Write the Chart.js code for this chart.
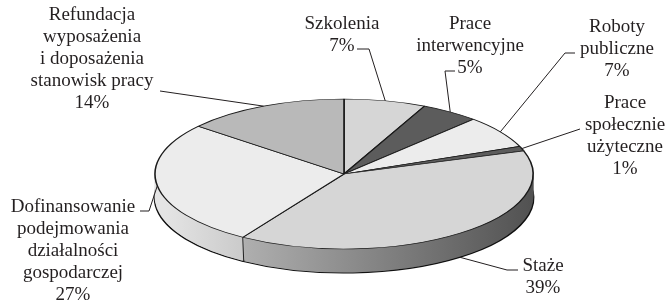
<!DOCTYPE html>
<html>
<head>
<meta charset="utf-8">
<script src="https://cdn.jsdelivr.net/npm/chart.js@4.4.0/dist/chart.umd.min.js"></script>
<style>
	html, body { margin: 0; padding: 0; background: #fff; overflow: hidden; }
	#wrap { width: 667px; height: 302px; position: relative; }
</style>
</head>
<body>
<div id="wrap"><canvas id="chart"></canvas></div>
<script>
// slices, clockwise from 12 o'clock
const categories = [
	'Szkolenia',
	'Prace interwencyjne',
	'Roboty publiczne',
	'Prace społecznie użyteczne',
	'Staże',
	'Dofinansowanie podejmowania działalności gospodarczej',
	'Refundacja wyposażenia i doposażenia stanowisk pracy'
];
const shares = [7, 5, 7, 1, 39, 27, 14];

// label text, broken in lines like the original
const labelLines = [
	['Szkolenia', '7%'],
	['Prace', 'interwencyjne', '5%'],
	['Roboty', 'publiczne', '7%'],
	['Prace', 'społecznie', 'użyteczne', '1%'],
	['Staże', '39%'],
	['Dofinansowanie', 'podejmowania', 'działalności', 'gospodarczej', '27%'],
	['Refundacja', 'wyposażenia', 'i doposażenia', 'stanowisk pracy', '14%']
];

const topColors = ['#d6d6d6', '#5c5c5c', '#ececec', '#5c5c5c', '#d6d6d6', '#ececec', '#b9b9b9'];
// side wall shading, left -> right
const sideColors = [
	['#b8b8b8', '#7a7a7a'],
	['#505050', '#3a3a3a'],
	['#d0d0d0', '#9a9a9a'],
	['#505050', '#3a3a3a'],
	['#c8c8c8', '#4e4e4e'],
	['#e4e4e4', '#686868'],
	['#b0b0b0', '#707070']
];

// ellipse look of the pie
const RX = 189;
const TILT = 75 / 189;
const DEPTH = 24;
const CENTER = { x: 344, y: 174 };

// where each label sits: centre x, first line y, leader points from text to pie
const labelLayout = [
	{ x: 342, y: 24, leader: [[357, 49], [369, 49]] },
	{ x: 470, y: 24, leader: [[455, 71], [445, 71]] },
	{ x: 617, y: 27, leader: [[575, 53], [565, 53]] },
	{ x: 625, y: 103, leader: [[580, 129]] },
	{ x: 543, y: 266, leader: [[518, 270], [507, 270]], side: true },
	{ x: 73, y: 207, leader: [[140, 211], [149, 211]] },
	{ x: 92, y: 15, leader: [[160, 91]] }
];

const LINE_H = 22;
const FONT = '19px "Liberation Serif", "Times New Roman", serif';

function pieTransform(ctx, arc, dy) {
	ctx.translate(CENTER.x, CENTER.y + dy);
	ctx.scale(1, TILT);
	ctx.translate(-arc.x, -arc.y);
}

function drawArcWith(arc, ctx, opts) {
	const copy = Object.create(arc);
	copy.options = Object.assign({}, arc.options, opts);
	Chart.ArcElement.prototype.draw.call(copy, ctx);
}

const pie3d = {
	id: 'pie3d',
	beforeDatasetsDraw(chart) {
		const ctx = chart.ctx;
		const arcs = chart.getDatasetMeta(0).data;
		const grads = sideColors.map(c => {
			const g = ctx.createLinearGradient(CENTER.x - RX, 0, CENTER.x + RX, 0);
			g.addColorStop(0, c[0]);
			g.addColorStop(1, c[1]);
			return g;
		});

		// side wall: stacked copies, bottom one outlined
		for (let dy = DEPTH; dy >= 1; dy--) {
			ctx.save();
			pieTransform(ctx, arcs[0], dy);
			arcs.forEach((arc, i) => {
				const outlined = dy === DEPTH;
				drawArcWith(arc, ctx, {
					backgroundColor: grads[i],
					borderColor: outlined ? '#111' : grads[i],
					borderWidth: outlined ? 2.5 : 0.6
				});
			});
			ctx.restore();
		}

		// seams on the side wall between front slices
		arcs.forEach(arc => {
			const a = arc.startAngle;
			if (Math.sin(a) > 0.05) {
				const x = CENTER.x + RX * Math.cos(a);
				const y = CENTER.y + RX * Math.sin(a) * TILT;
				ctx.save();
				ctx.strokeStyle = '#222';
				ctx.lineWidth = 1;
				ctx.beginPath();
				ctx.moveTo(x, y);
				ctx.lineTo(x + 1, y + DEPTH);
				ctx.stroke();
				ctx.restore();
			}
		});

		ctx.save();
		pieTransform(ctx, arcs[0], 0);
	},
	afterDatasetsDraw(chart) {
		chart.ctx.restore();
	},
	afterDraw(chart) {
		const ctx = chart.ctx;
		const arcs = chart.getDatasetMeta(0).data;
		ctx.save();
		ctx.font = FONT;
		ctx.fillStyle = '#231f20';
		ctx.textAlign = 'center';
		ctx.textBaseline = 'middle';
		ctx.strokeStyle = '#231f20';
		ctx.lineWidth = 1;

		arcs.forEach((arc, i) => {
			const lay = labelLayout[i];
			const mid = (arc.startAngle + arc.endAngle) / 2;
			const ax = CENTER.x + RX * Math.cos(mid);
			const ay = CENTER.y + RX * Math.sin(mid) * TILT + (lay.side ? DEPTH : 0);

			ctx.beginPath();
			lay.leader.forEach((p, k) => {
				if (k === 0) ctx.moveTo(p[0], p[1]);
				else ctx.lineTo(p[0], p[1]);
			});
			ctx.lineTo(ax, ay);
			ctx.stroke();

			labelLines[i].forEach((line, k) => {
				ctx.fillText(line, lay.x, lay.y + k * LINE_H);
			});
		});
		ctx.restore();
	}
};

new Chart(document.getElementById('chart'), {
	type: 'pie',
	data: {
		labels: categories,
		datasets: [{
			data: shares,
			backgroundColor: topColors,
			borderColor: '#1a1a1a',
			borderWidth: 1.6,
			radius: RX,
			clip: false
		}]
	},
	options: {
		responsive: true,
		maintainAspectRatio: false,
		animation: false,
		events: [],
		layout: { padding: 0 },
		plugins: {
			legend: { display: false },
			tooltip: { enabled: false }
		}
	},
	plugins: [pie3d]
});
</script>
</body>
</html>
